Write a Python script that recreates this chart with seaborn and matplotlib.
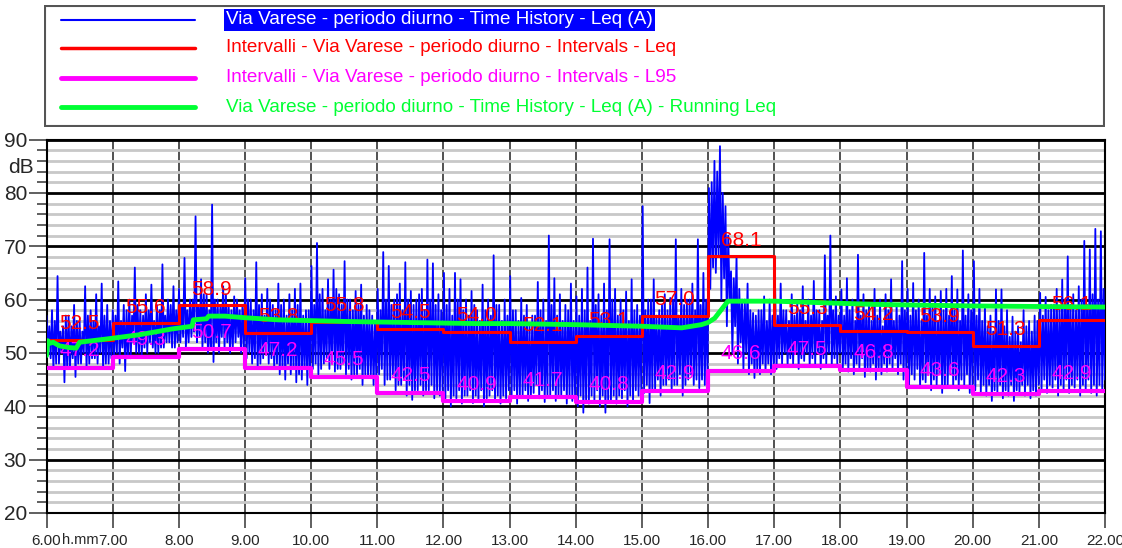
import numpy as np
import pandas as pd
import matplotlib
matplotlib.use("Agg")
import matplotlib.pyplot as plt
import seaborn as sns
from matplotlib.patches import Rectangle
from matplotlib.ticker import MultipleLocator
import matplotlib.transforms as mtransforms

# ------------------------------------------------------------------ data
hour_edges = list(range(6, 23))
hour_labels = ["6.00", "7.00", "8.00", "9.00", "10.00", "11.00", "12.00", "13.00",
               "14.00", "15.00", "16.00", "17.00", "18.00", "19.00", "20.00",
               "21.00", "22.00"]

interval_leq = [52.5, 55.6, 58.9, 53.8, 55.8, 54.5, 54.0, 52.1,
                53.1, 57.0, 68.1, 55.3, 54.2, 53.9, 51.3, 56.1]
interval_l95 = [47.2, 49.3, 50.7, 47.2, 45.5, 42.5, 40.9, 41.7,
                40.8, 42.9, 46.6, 47.5, 46.8, 43.6, 42.3, 42.9]

# Time history Leq(A): 12 slots per hour, each slot =
# spike peak, trough, ordinary peak, ordinary trough
th_high = [
    57, 58, 64.4, 55, 57, 59, 56, 62.5, 58, 61, 63, 59,            # 6-7
    58, 63.4, 59, 60, 66, 58, 61, 62.8, 59, 66.6, 60, 62.5,        # 7-8
    62, 67.8, 60, 75.6, 63.8, 61, 77.8, 60, 62.5, 59, 60.6, 58,    # 8-9
    64, 60, 67, 61, 62, 59, 63, 60, 61, 62, 63, 58,                # 9-10
    66.3, 70.6, 62, 63.8, 65.6, 61, 67.2, 60, 61.6, 62.8, 59, 57,  # 10-11
    62, 68.9, 66.3, 60, 63, 67, 61.6, 60, 62, 67.5, 66.8, 61,      # 11-12
    65, 62, 65, 63.8, 60, 61.6, 58, 62.8, 60, 68.3, 59, 60,        # 12-13
    64.4, 58, 60.3, 59, 57, 63.3, 60, 72, 64, 61, 59, 63,          # 13-14
    60.6, 62, 66, 71.4, 61, 63, 71.3, 62, 60, 61.5, 63.8, 59,      # 14-15
    77.5, 60, 63.8, 58, 61, 60.3, 71.3, 62, 60, 63, 71.3, 65,      # 15-16
    80.9, 86, 88.75, 77.5, 65.3, 68.1, 60, 63, 57.5, 58, 60.6, 60, # 16-17
    62, 63, 58, 61, 59.5, 62.5, 60, 63.5, 58, 68.3, 72, 60.6,      # 17-18
    61.9, 64, 60, 68.4, 61, 59, 62, 60, 61, 63.8, 59, 67.2,        # 18-19
    62, 63.1, 60, 68.75, 62, 60.6, 61.6, 62, 64.4, 61.9, 69.2, 61, # 19-20
    67.2, 62, 59, 57, 61.9, 61.9, 58, 56.8, 55, 58, 56, 57,        # 20-21
    61.25, 60.5, 59, 62, 63.75, 68.1, 61, 62.5, 71, 69.4, 73.25, 72.8,  # 21-22
]
th_low = [
    50, 47, 48, 44.5, 47, 45.5, 48, 47, 49, 48, 47, 48,            # 6-7
    49, 48, 46.6, 49, 50, 49.5, 50, 51, 50, 51, 52, 51,            # 7-8
    52, 51, 53, 52, 51, 50, 48.3, 50, 51, 50, 52, 50,              # 8-9
    49, 48, 47, 49, 48, 47, 46, 45, 46, 44.5, 45, 44,              # 9-10
    47, 46, 48, 47, 46.5, 47, 46, 45, 46, 44, 45.5, 44,            # 10-11
    46, 44, 45, 43, 44, 42, 41.2, 43, 42, 43, 41.5, 42,            # 11-12
    41, 40, 41.5, 40.5, 42, 40.6, 41, 40, 42, 41, 40.5, 41.5,      # 12-13
    41.5, 40.5, 42, 41, 42.5, 41.5, 40.8, 42, 41, 42, 40.5, 41,    # 13-14
    40, 38.8, 40.5, 41, 40, 38.8, 41, 40.5, 41.5, 40, 41, 42,      # 14-15
    42.5, 40.6, 43, 42, 44, 43, 44, 42, 45, 44, 43.4, 44,          # 15-16
    62, 65, 60, 55, 50, 48, 47, 46, 45.3, 46, 46.5, 46,            # 16-17
    47, 48, 47.5, 48, 47, 48.5, 47.5, 48, 47, 48, 47.5, 48,        # 17-18
    47, 46.5, 46, 47, 45.5, 46.5, 45, 46, 46.5, 47, 46, 45,        # 18-19
    44, 45, 43.5, 44.5, 43, 44, 42.5, 44, 43.5, 43, 44, 42.5,      # 19-20
    43, 42.5, 42, 41, 42.5, 41.5, 42, 41, 42.5, 42, 41.5, 42,      # 20-21
    43, 42.5, 43.5, 42, 43, 42.5, 43.5, 42, 43, 42.5, 42, 43,      # 21-22
]
th_mid = [
    55, 56, 54, 57, 55, 56, 54, 57, 56, 55, 57, 56,                # 6-7
    57, 56, 58, 57, 59, 57, 58, 56, 58, 57, 59, 58,                # 7-8
    59, 58, 60, 59, 61, 58, 60, 59, 61, 58, 60, 59,                # 8-9
    60, 58, 59, 57, 60, 58, 59, 57, 58, 59, 57, 58,                # 9-10
    59, 61, 58, 60, 62, 59, 60, 58, 59, 57, 58, 56,                # 10-11
    58, 60, 59, 61, 58, 60, 59, 61, 58, 60, 59, 58,                # 11-12
    59, 57, 60, 58, 57, 59, 56, 58, 57, 59, 56, 57,                # 12-13
    58, 56, 57, 55, 57, 58, 56, 59, 57, 56, 58, 56,                # 13-14
    57, 58, 56, 59, 57, 58, 60, 57, 58, 56, 58, 57,                # 14-15
    58, 60, 57, 59, 58, 60, 57, 59, 60, 58, 59, 60,                # 15-16
    82, 84, 80, 72, 64, 62, 60, 58, 57, 58, 56, 57,                # 16-17
    57, 58, 56, 57, 58, 56, 57, 58, 56, 57, 58, 57,                # 17-18
    57, 58, 56, 57, 58, 56, 57, 55, 58, 56, 57, 58,                # 18-19
    57, 58, 56, 57, 59, 56, 58, 57, 58, 56, 57, 58,                # 19-20
    57, 56, 55, 54, 56, 55, 53, 54, 52, 55, 54, 56,                # 20-21
    57, 58, 59, 58, 60, 59, 58, 60, 59, 61, 60, 62,                # 21-22
]
th_low2 = [
    49, 48, 50, 47, 49, 48, 50, 48, 49, 50, 48, 49,                # 6-7
    50, 51, 49, 52, 50, 51, 52, 50, 51, 52, 51, 52,                # 7-8
    53, 52, 54, 53, 52, 51, 52, 53, 52, 51, 53, 51,                # 8-9
    50, 49, 48, 50, 49, 48, 47, 48, 47, 46, 47, 46,                # 9-10
    48, 47, 49, 48, 47, 48, 47, 46, 47, 46, 46, 45,                # 10-11
    47, 45, 46, 44, 45, 44, 43, 44, 43, 44, 43, 43,                # 11-12
    43, 42, 43, 42, 43, 42, 43, 41.5, 43, 42, 42, 43,              # 12-13
    43, 42, 43, 42, 44, 43, 42, 43, 42, 43, 42, 42,                # 13-14
    42, 41, 42, 43, 42, 41, 42, 42, 43, 42, 43, 43,                # 14-15
    44, 43, 45, 44, 45, 44, 46, 44, 46, 45, 45, 46,                # 15-16
    66, 68, 64, 60, 55, 52, 50, 48, 47, 48, 48, 48,                # 16-17
    49, 50, 49, 50, 49, 50, 49, 50, 49, 50, 49, 50,                # 17-18
    48, 49, 48, 49, 47, 48, 47, 48, 48, 49, 48, 47,                # 18-19
    46, 47, 45, 46, 45, 46, 44, 46, 45, 45, 46, 44,                # 19-20
    45, 44, 44, 43, 44, 43, 44, 43, 44, 44, 43, 44,                # 20-21
    45, 44, 45, 44, 45, 44, 45, 44, 45, 44, 44, 45,                # 21-22
]

# Running Leq
run_t = [6.0, 6.02, 6.05, 6.1, 6.2, 6.35, 6.45, 6.5, 6.9, 7.4, 7.9, 8.2, 8.22,
         8.42, 8.45, 8.7, 9.0, 9.5, 10.5, 12.5, 13.0, 14.0, 15.0, 15.6, 15.9,
         16.0, 16.1, 16.2, 16.3, 17.0, 18.5, 20.0, 22.0]
run_db = [49.5, 52.3, 51.8, 52.0, 51.3, 51.0, 50.9, 52.0, 52.6, 53.4, 54.5, 55.0, 56.2,
          56.4, 56.9, 56.9, 56.6, 56.2, 55.9, 55.5, 55.5, 55.3, 55.0, 54.7, 55.3,
          55.7, 56.5, 58.1, 59.7, 59.7, 59.1, 58.8, 58.6]

legend_labels = [
    "Via Varese - periodo diurno - Time History - Leq (A)",
    "Intervalli - Via Varese - periodo diurno - Intervals - Leq",
    "Intervalli - Via Varese - periodo diurno - Intervals - L95",
    "Via Varese - periodo diurno - Time History - Leq (A) - Running Leq",
]

# ------------------------------------------------------------------ style
sns.set_style("white")
plt.rcParams["font.family"] = ["Liberation Sans", "DejaVu Sans"]

BLUE = "#0000ff"
RED = "#ff0000"
MAG = "#ff00ff"
GREEN = "#00ff33"

W, H = 1122, 548
fig = plt.figure(figsize=(W / 100, H / 100), dpi=100)

ax_l, ax_r, ax_t, ax_b = 46.5, 1105, 139.5, 513
ax = fig.add_axes([ax_l / W, 1 - ax_b / H, (ax_r - ax_l) / W, (ax_b - ax_t) / H])

# time history series (interleaved samples)
vals = []
for a, b, c, d in zip(th_high, th_low, th_mid, th_low2):
    vals += [a, b, c, d]
t = np.linspace(6, 22, len(vals))
df_th = pd.DataFrame({"t": t, "db": vals})
sns.lineplot(data=df_th, x="t", y="db", color=BLUE, lw=1.3, estimator=None,
             sort=False, ax=ax, zorder=3)

sns.lineplot(x=hour_edges, y=interval_leq + [interval_leq[-1]], color=RED, lw=2.2,
             drawstyle="steps-post", estimator=None, ax=ax, zorder=4)
sns.lineplot(x=hour_edges, y=interval_l95 + [interval_l95[-1]], color=MAG, lw=3,
             drawstyle="steps-post", estimator=None, ax=ax, zorder=4)
sns.lineplot(x=run_t, y=run_db, color=GREEN, lw=3.5, estimator=None, ax=ax, zorder=7)

for h, v in zip(hour_edges[:-1], interval_leq):
    ax.text(h + 0.5, v + 3.0, f"{v:.1f}", color=RED, ha="center", va="center",
            fontsize=15, zorder=6)
for h, v in zip(hour_edges[:-1], interval_l95):
    ax.text(h + 0.5, v + 3.2, f"{v:.1f}", color=MAG, ha="center", va="center",
            fontsize=15, zorder=6)

ax.set_xlim(6, 22)
ax.set_ylim(20, 90)
ax.set_xticks(hour_edges)
ax.set_xticklabels(hour_labels, fontsize=11)
ax.yaxis.set_major_locator(MultipleLocator(10))
ax.yaxis.set_minor_locator(MultipleLocator(2))
ax.tick_params(axis="y", which="major", length=13, width=1.2, pad=1, labelsize=15,
               left=True, color="#444444")
ax.tick_params(axis="y", which="minor", length=7, width=1.2, left=True, color="#444444")
ax.tick_params(axis="x", which="major", length=11, width=1.2, pad=4, bottom=True,
               color="#444444")
ax.set_xlabel("")
ax.set_ylabel("")

ax.set_axisbelow(True)
ax.yaxis.grid(True, which="minor", color="#c8c8c8", lw=2)
ax.yaxis.grid(True, which="major", color="black", lw=2)
ax.xaxis.grid(True, which="major", color="#333333", lw=1.2)
for s in ax.spines.values():
    s.set_color("black")
    s.set_linewidth(1.5)

trans = mtransforms.blended_transform_factory(ax.transAxes, ax.transData)
ax.text(-26 / (ax_r - ax_l), 84.7, "dB", transform=trans, ha="center", va="center",
        fontsize=15)
ax.text(6.51, -(11 + 4 * 100 / 72 + 3) / (ax_b - ax_t), "h.mm",
        transform=mtransforms.blended_transform_factory(ax.transData, ax.transAxes),
        ha="center", va="top", fontsize=10.5)

# ------------------------------------------------------------------ legend panel
lx0, lx1, ly0, ly1 = 44, 1105, 5, 127
lax = fig.add_axes([lx0 / W, 1 - ly1 / H, (lx1 - lx0) / W, (ly1 - ly0) / H])
lax.set_xlim(lx0, lx1)
lax.set_ylim(ly1, ly0)
lax.axis("off")
lax.add_patch(Rectangle((lx0 + 1, ly0 + 1), lx1 - lx0 - 2, ly1 - ly0 - 2, fill=False,
                        edgecolor="#555555", lw=1.5))
rows_y = [20, 48, 78, 107]
for y, col, lw, lab in zip(rows_y, [BLUE, RED, MAG, GREEN], [1.5, 2.5, 3.5, 3.5], legend_labels):
    lax.plot([61, 195], [y, y], color=col, lw=lw, solid_capstyle="round")
    txt = lax.text(226, y, lab, color=("white" if col == BLUE else col), ha="left",
                   va="center", fontsize=13.6)
    if col == BLUE:
        txt.set_bbox(dict(facecolor=BLUE, edgecolor="none", pad=1.5))

fig.savefig("out.png", dpi=100)
